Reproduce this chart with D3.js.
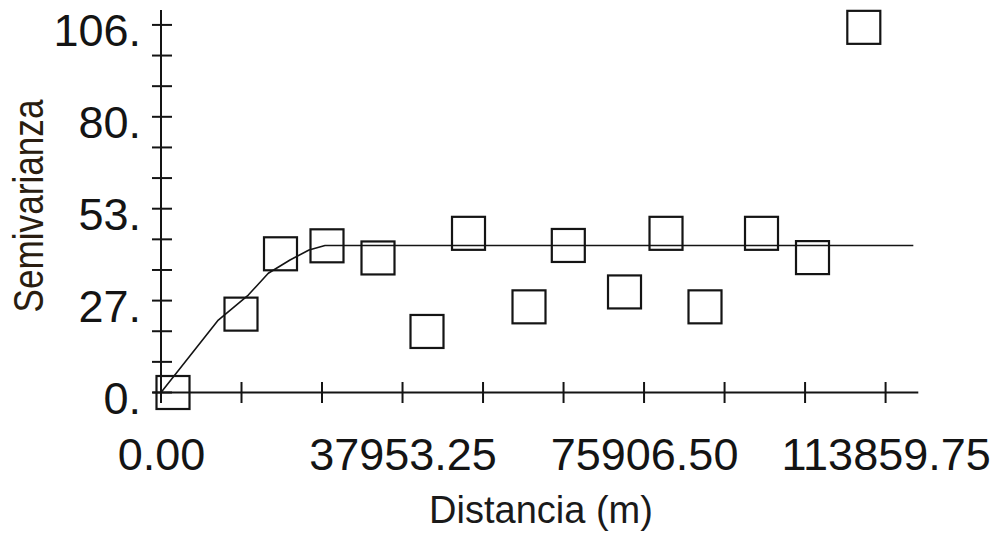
<!DOCTYPE html>
<html>
<head>
<meta charset="utf-8">
<script src="https://cdn.jsdelivr.net/npm/d3@7"></script>
<style>
  html, body { margin: 0; padding: 0; background: #ffffff; }
  svg { display: block; font-family: "Liberation Sans", Arial, sans-serif; }
</style>
</head>
<body>
<svg id="chart" width="1000" height="533"></svg>
<script>
// Experimental semivariogram: lag distance (m) and semivariance per lag
const lagDistance = [1886, 12571, 18778, 26085, 34099, 41799, 48321, 57827,
                     64003, 72835, 79356, 85484, 94362, 102376, 110437];
const semivariance = [0.0, 22.6, 40.0, 42.3, 38.8, 17.6, 45.9, 24.7,
                      42.4, 29.0, 45.9, 24.7, 45.9, 38.9, 105.3];

// Fitted model curve (distance, semivariance)
const modelDistance = [0, 9004, 13718, 16861, 20271, 23257, 25771, 118218];
const modelGamma    = [0, 20.9, 28.1, 34.4, 38.2, 41.1, 42.4, 42.4];

// Axis ticks
const xMajorTicks = [0, 37953.25, 75906.50, 113859.75];
const xTickLabels = ["0.00", "37953.25", "75906.50", "113859.75"];
const yMajorTicks = [0, 26.5, 53, 79.5, 106];
const yTickLabels = ["0.", "27.", "53.", "80.", "106."];
const xAxisMax = 119000;
const yAxisMax = 110.3;

const svg = d3.select("#chart");
const ink = "#141414";

const x = d3.scaleLinear().domain([0, xAxisMax]).range([161, 918.3]);
const y = d3.scaleLinear().domain([0, yAxisMax]).range([392.5, 10]);

// minor ticks: two between each pair of major ticks
const xStep = xMajorTicks[1] / 3;
const xAllTicks = d3.range(0, 10).map(i => i * xStep);
const yStep = yMajorTicks[1] / 3;
const yAllTicks = d3.range(0, 13).map(i => i * yStep);

const x0 = x(0), y0 = y(0);

// axis lines
svg.append("line")
  .attr("x1", x0 - 8.5).attr("x2", x.range()[1])
  .attr("y1", y0).attr("y2", y0)
  .attr("stroke", ink).attr("stroke-width", 2);
svg.append("line")
  .attr("x1", x0).attr("x2", x0)
  .attr("y1", y0 + 10.5).attr("y2", y.range()[1])
  .attr("stroke", ink).attr("stroke-width", 2);

// crossing tick marks
svg.append("g").selectAll("line").data(xAllTicks).join("line")
  .attr("x1", d => x(d)).attr("x2", d => x(d))
  .attr("y1", y0 - 10.5).attr("y2", y0 + 10.5)
  .attr("stroke", ink).attr("stroke-width", 2);
svg.append("g").selectAll("line").data(yAllTicks).join("line")
  .attr("x1", x0 - 9).attr("x2", x0 + 11)
  .attr("y1", d => y(d)).attr("y2", d => y(d))
  .attr("stroke", ink).attr("stroke-width", 2);

// tick labels through d3 axes
const xAxis = d3.axisBottom(x)
  .tickValues(xMajorTicks)
  .tickFormat((d, i) => xTickLabels[i])
  .tickSize(0);
const gx = svg.append("g").attr("transform", `translate(0,${y0})`).call(xAxis);
gx.select(".domain").remove();
gx.selectAll("text")
  .attr("y", 77.5).attr("dy", 0)
  .attr("fill", ink)
  .style("font-size", "45px")
  .style("font-family", "'Liberation Sans', Arial, sans-serif");

const yAxis = d3.axisLeft(y)
  .tickValues(yMajorTicks)
  .tickFormat((d, i) => yTickLabels[i])
  .tickSize(0);
const gy = svg.append("g").attr("transform", `translate(${x0},0)`).call(yAxis);
gy.select(".domain").remove();
gy.selectAll("text")
  .attr("x", -20).attr("dy", 21)
  .attr("fill", ink)
  .style("font-size", "45px")
  .style("font-family", "'Liberation Sans', Arial, sans-serif");

// model curve
const model = modelDistance.map((d, i) => [d, modelGamma[i]]);
svg.append("path")
  .datum(model)
  .attr("fill", "none")
  .attr("stroke", ink)
  .attr("stroke-width", 1.6)
  .attr("stroke-linejoin", "round")
  .attr("d", d3.line().x(d => x(d[0])).y(d => y(d[1])));

// experimental points as open squares
const side = 33;
const pts = lagDistance.map((d, i) => [d, semivariance[i]]);
svg.append("g").selectAll("rect").data(pts).join("rect")
  .attr("x", d => x(d[0]) - side / 2)
  .attr("y", d => y(d[1]) - side / 2)
  .attr("width", side).attr("height", side)
  .attr("fill", "none")
  .attr("stroke", ink)
  .attr("stroke-width", 2.2);

// axis titles
svg.append("text")
  .attr("x", 541).attr("y", 523)
  .attr("text-anchor", "middle")
  .attr("fill", "#1a1a1a")
  .style("font-size", "38px")
  .text("Distancia (m)");

svg.append("text")
  .attr("transform", "translate(43,206) rotate(-90)")
  .attr("text-anchor", "middle")
  .attr("fill", "#2a1d10")
  .attr("textLength", 213)
  .attr("lengthAdjust", "spacingAndGlyphs")
  .style("font-size", "42px")
  .text("Semivarianza");
</script>
</body>
</html>
